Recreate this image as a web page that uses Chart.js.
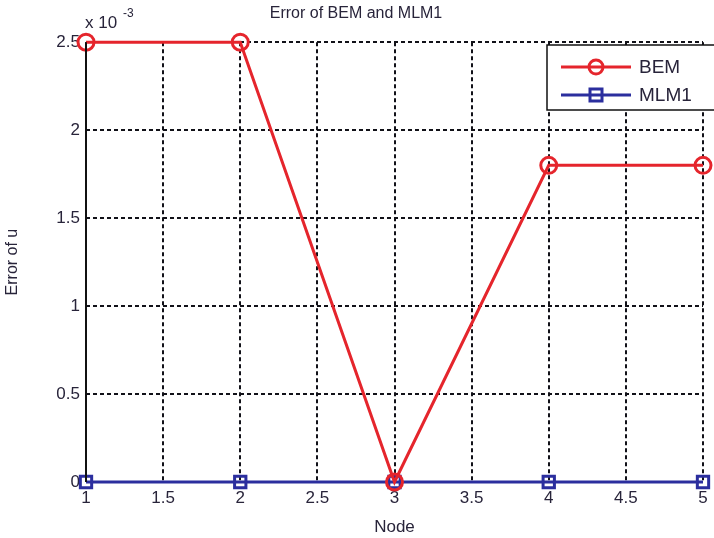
<!DOCTYPE html>
<html>
<head>
<meta charset="utf-8">
<script src="https://cdn.jsdelivr.net/npm/chart.js@4"></script>
<style>
    html, body { margin: 0; padding: 0; background: #ffffff; }
    #wrap { width: 714px; height: 538px; }
</style>
</head>
<body>
<div id="wrap"><canvas id="graph_error" width="714" height="538"></canvas></div>
<script>

var NODES                                   = [1, 2, 3, 4, 5];
var ERROR_BEM                               = [2.5, 2.5, 0, 1.8, 1.8];
var ERROR_MLM1                              = [0, 0, 0, 0, 0];

var LABEL_BEM                               = 'BEM';
var LABEL_MLM1                              = 'MLM1';

var COLOR_BEM                               = '#e5252c';
var COLOR_MLM1                              = '#2b2e9e';
var COLOR_TEXT                              = '#28243a';
var FONT_FAMILY                             = '"Liberation Sans", Arial, sans-serif';



function graph_points(values) {

    return NODES.map(function(node, i) { return { x: node, y: values[i] }; });
}



// legend box, solid left axis and the x 10^-3 exponent, drawn on top like matlab does
var graph_extras = {
    id: 'graph_extras',
    afterDraw: function(chart) {

        var ctx = chart.ctx;
        var area = chart.chartArea;

        ctx.save();

        ctx.strokeStyle = '#111111';
        ctx.lineWidth = 2;
        ctx.setLineDash([]);
        ctx.beginPath();
        ctx.moveTo(area.left, area.top);
        ctx.lineTo(area.left, area.bottom);
        ctx.stroke();

        ctx.fillStyle = COLOR_TEXT;
        ctx.textBaseline = 'alphabetic';
        ctx.textAlign = 'left';
        ctx.font = '17px ' + FONT_FAMILY;
        ctx.fillText('x 10', area.left - 1, 28);
        ctx.font = '12px ' + FONT_FAMILY;
        ctx.fillText('-3', area.left + 37, 17);

        var lx = 547, ly = 45, lw = 170, lh = 65;
        ctx.fillStyle = '#ffffff';
        ctx.fillRect(lx, ly, lw, lh);
        ctx.strokeStyle = '#111111';
        ctx.lineWidth = 1.5;
        ctx.strokeRect(lx, ly, lw, lh);

        var rows = [
            { label: LABEL_BEM, color: COLOR_BEM, y: 67, style: 'circle' },
            { label: LABEL_MLM1, color: COLOR_MLM1, y: 95, style: 'rect' },
        ];

        rows.forEach(function(row) {
            ctx.strokeStyle = row.color;
            ctx.lineWidth = 3;
            ctx.beginPath();
            ctx.moveTo(lx + 14, row.y);
            ctx.lineTo(lx + 84, row.y);
            ctx.stroke();
            ctx.beginPath();
            if (row.style === 'circle') {
                ctx.ellipse(lx + 49, row.y, 7, 7, 0, 0, Math.PI * 2);
            } else {
                ctx.rect(lx + 43, row.y - 6, 12, 12);
            }
            ctx.stroke();
            ctx.fillStyle = COLOR_TEXT;
            ctx.font = '19px ' + FONT_FAMILY;
            ctx.textAlign = 'left';
            ctx.textBaseline = 'middle';
            ctx.fillText(row.label, lx + 92, row.y + 1);
        });

        ctx.restore();
    }
};



function graph_create(canvas) {

    return new Chart(canvas, {
        type: 'line',
        data: {
            datasets: [
                {
                    label: LABEL_BEM,
                    data: graph_points(ERROR_BEM),
                    borderColor: COLOR_BEM,
                    backgroundColor: 'rgba(0,0,0,0)',
                    borderWidth: 3,
                    pointStyle: 'circle',
                    pointRadius: 8,
                    pointBorderWidth: 3,
                    pointBorderColor: COLOR_BEM,
                    pointBackgroundColor: 'rgba(0,0,0,0)',
                    tension: 0,
                    clip: false,
                },
                {
                    label: LABEL_MLM1,
                    data: graph_points(ERROR_MLM1),
                    borderColor: COLOR_MLM1,
                    backgroundColor: 'rgba(0,0,0,0)',
                    borderWidth: 3,
                    pointStyle: 'rect',
                    pointRadius: 8,
                    pointBorderWidth: 3,
                    pointBorderColor: COLOR_MLM1,
                    pointBackgroundColor: 'rgba(0,0,0,0)',
                    tension: 0,
                    clip: false,
                },
            ]
        },
        options: graph_options(),
        plugins: [graph_extras],
    });
}



function graph_options() {

    return {
        responsive: false,
        animation: false,
        layout: {
            padding: { top: 0, bottom: 0, left: 0, right: 2 }
        },
        scales: {
            x: {
                type: 'linear',
                min: 1,
                max: 5,
                ticks: {
                    stepSize: 0.5,
                    color: COLOR_TEXT,
                    padding: 6,
                    maxRotation: 0,
                    font: { family: FONT_FAMILY, size: 17 },
                    callback: function(value) { return String(value); }
                },
                grid: {
                    color: '#111118',
                    lineWidth: 2,
                    tickLength: 0,
                },
                border: {
                    display: false,
                    dash: [4, 3],
                },
                title: {
                    display: true,
                    text: 'Node',
                    color: COLOR_TEXT,
                    font: { family: FONT_FAMILY, size: 17 },
                    padding: { top: 0, bottom: 0 },
                },
                afterFit: function(scale) { scale.height = 56; }
            },
            y: {
                min: 0,
                max: 2.5,
                ticks: {
                    stepSize: 0.5,
                    color: COLOR_TEXT,
                    padding: 6,
                    font: { family: FONT_FAMILY, size: 17 },
                    callback: function(value) { return String(value); }
                },
                grid: {
                    color: '#111118',
                    lineWidth: 2,
                    tickLength: 0,
                },
                border: {
                    display: false,
                    dash: [4, 3],
                },
                title: {
                    display: true,
                    text: 'Error of u',
                    color: COLOR_TEXT,
                    font: { family: FONT_FAMILY, size: 16 },
                    padding: { top: 3, bottom: 10 },
                },
                afterFit: function(scale) { scale.width = 86; }
            }
        },
        plugins: {
            legend: { display: false },
            tooltip: { enabled: false },
            title: {
                display: true,
                text: 'Error of BEM and MLM1',
                color: COLOR_TEXT,
                font: { family: FONT_FAMILY, size: 16, weight: 'normal' },
                padding: { top: 4, bottom: 19 },
            }
        }
    };
}



graph_create(document.getElementById('graph_error'));

</script>
</body>
</html>
